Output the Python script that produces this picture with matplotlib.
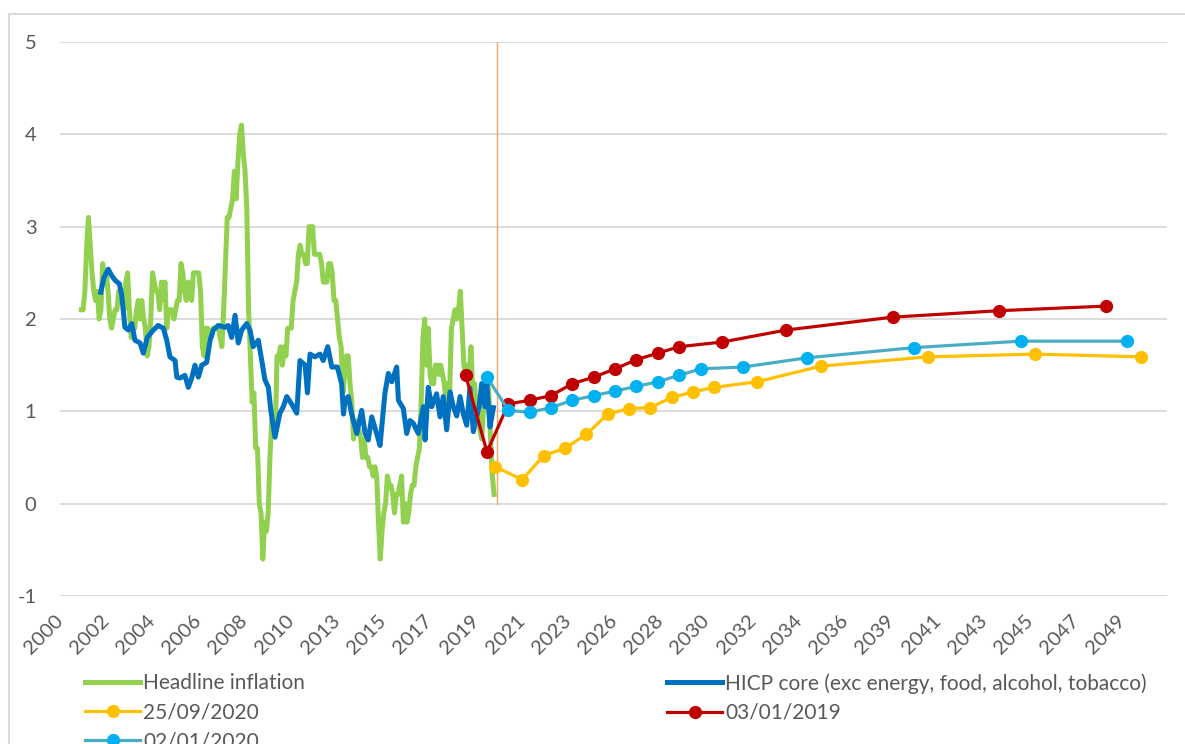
import numpy as np
import matplotlib.pyplot as plt
from matplotlib.lines import Line2D

# Headline HICP inflation, monthly from Jan 2001 to May 2020
headline_start = 2001
headline = [
    2.1, 2.1, 2.3, 2.8, 3.1, 2.8, 2.5, 2.3, 2.2, 2.3, 2.0, 2.1,
    2.6, 2.4, 2.5, 2.3, 2.0, 1.9, 2.0, 2.1, 2.1, 2.3, 2.3, 2.3,
    2.1, 2.4, 2.5, 2.1, 1.8, 1.9, 1.9, 2.1, 2.2, 2.0, 2.2, 2.0,
    1.9, 1.6, 1.7, 2.0, 2.5, 2.4, 2.3, 2.3, 2.1, 2.4, 2.2, 2.4,
    1.9, 2.1, 2.1, 2.1, 2.0, 2.1, 2.2, 2.2, 2.6, 2.5, 2.3, 2.2,
    2.4, 2.3, 2.2, 2.5, 2.5, 2.5, 2.5, 2.3, 1.7, 1.6, 1.9, 1.9,
    1.8, 1.8, 1.9, 1.9, 1.9, 1.9, 1.8, 1.7, 2.1, 2.6, 3.1, 3.1,
    3.2, 3.3, 3.6, 3.3, 3.7, 4.0, 4.1, 3.8, 3.6, 3.2, 2.1, 1.6,
    1.1, 1.2, 0.6, 0.6, 0.0, -0.1, -0.6, -0.2, -0.3, -0.1, 0.5, 0.9,
    1.0, 0.8, 1.6, 1.6, 1.7, 1.5, 1.7, 1.6, 1.9, 1.9, 1.9, 2.2,
    2.3, 2.4, 2.7, 2.8, 2.7, 2.7, 2.6, 2.6, 3.0, 3.0, 3.0, 2.7,
    2.7, 2.7, 2.7, 2.6, 2.4, 2.4, 2.4, 2.6, 2.6, 2.5, 2.2, 2.2,
    2.0, 1.8, 1.7, 1.2, 1.4, 1.6, 1.6, 1.3, 1.1, 0.7, 0.9, 0.8,
    0.8, 0.7, 0.5, 0.7, 0.5, 0.5, 0.4, 0.4, 0.3, 0.4, 0.3, -0.2,
    -0.6, -0.3, -0.1, 0.0, 0.3, 0.2, 0.2, 0.1, -0.1, 0.1, 0.1, 0.2,
    0.3, -0.2, 0.0, -0.2, -0.1, 0.1, 0.2, 0.2, 0.4, 0.5, 0.6, 1.1,
    1.8, 2.0, 1.5, 1.9, 1.4, 1.3, 1.3, 1.5, 1.5, 1.4, 1.5, 1.4,
    1.3, 1.1, 1.3, 1.2, 1.9, 2.0, 2.1, 2.0, 2.1, 2.3, 1.9, 1.5,
    1.4, 1.5, 1.4, 1.7, 1.2, 1.3, 1.0, 1.0, 0.8, 0.7, 1.0, 1.3,
    1.4, 1.2, 0.7, 0.3, 0.1,
]

# Core HICP (exc energy, food, alcohol, tobacco)
core_t = [
    2001.91, 2002.06, 2002.26, 2002.42, 2002.58, 2002.78, 2002.89, 2003.04,
    2003.20, 2003.36, 2003.51, 2003.75, 2003.90, 2004.09, 2004.37, 2004.60,
    2004.84, 2005.00, 2005.15, 2005.39, 2005.47, 2005.62, 2005.85, 2006.01,
    2006.17, 2006.32, 2006.48, 2006.64, 2006.87, 2007.03, 2007.18, 2007.41,
    2007.73, 2007.88, 2008.04, 2008.20, 2008.35, 2008.51, 2008.74, 2008.90,
    2009.05, 2009.29, 2009.45, 2009.60, 2009.76, 2009.88, 2010.07, 2010.30,
    2010.46, 2010.62, 2010.85, 2011.09, 2011.24, 2011.48, 2011.59, 2011.71,
    2011.94, 2012.18, 2012.33, 2012.54, 2012.73, 2012.99, 2013.19, 2013.28,
    2013.35, 2013.50, 2013.66, 2013.90, 2014.13, 2014.29, 2014.44, 2014.60,
    2014.83, 2014.99, 2015.22, 2015.38, 2015.54, 2015.77, 2015.85, 2016.08,
    2016.24, 2016.39, 2016.55, 2016.78, 2017.02, 2017.10, 2017.25, 2017.41,
    2017.64, 2017.80, 2017.95, 2018.11, 2018.27, 2018.42, 2018.58, 2018.74,
    2018.89, 2019.05, 2019.20, 2019.36, 2019.52, 2019.63, 2019.75, 2019.91,
    2019.99, 2020.14, 2020.30,
]
core = [
    2.29, 2.45, 2.54, 2.47, 2.42, 2.38, 2.26, 1.91,
    1.88, 1.95, 1.77, 1.74, 1.63, 1.80, 1.88, 1.93,
    1.90, 1.77, 1.59, 1.55, 1.37, 1.36, 1.39, 1.26,
    1.36, 1.50, 1.37, 1.50, 1.53, 1.77, 1.88, 1.93,
    1.91, 1.93, 1.80, 2.04, 1.74, 1.88, 1.95, 1.88,
    1.70, 1.77, 1.55, 1.34, 1.26, 1.00, 0.72, 0.98,
    1.05, 1.16, 1.08, 0.98, 1.55, 1.50, 1.20, 1.62,
    1.59, 1.62, 1.55, 1.70, 1.48, 1.48, 1.30, 0.97,
    1.12, 1.16, 0.97, 0.76, 1.01, 0.76, 0.69, 0.94,
    0.76, 0.63, 1.20, 1.41, 1.32, 1.48, 1.12, 1.03,
    0.76, 0.90, 0.87, 0.76, 1.05, 0.69, 1.26, 1.05,
    1.19, 0.94, 1.16, 0.80, 1.21, 1.05, 0.95, 1.16,
    0.97, 0.85, 1.25, 0.78, 0.95, 1.05, 1.30, 1.05,
    1.30, 0.83, 1.04,
]

# Market-implied inflation curves on three dates
tenors = [0, 1, 2, 3, 4, 5, 6, 7, 8, 9, 10, 12, 15, 20, 25, 30]

curve_0919 = [1.39, 0.56, 1.08, 1.12, 1.17, 1.30, 1.37, 1.46,
              1.56, 1.63, 1.70, 1.75, 1.88, 2.02, 2.09, 2.14]
curve_0120 = [1.37, 1.01, 0.99, 1.04, 1.12, 1.17, 1.22, 1.27,
              1.32, 1.39, 1.46, 1.48, 1.58, 1.69, 1.76, 1.76]
curve_0920 = [0.40, 0.26, 0.52, 0.60, 0.75, 0.97, 1.03, 1.04,
              1.15, 1.21, 1.26, 1.32, 1.49, 1.59, 1.62, 1.59]
curve_0920_t = [2020.38] + [2020.65 + t for t in tenors[1:]]

last_obs = 2020.45

xtick_labels = ['2000', '2002', '2004', '2006', '2008', '2010', '2013', '2015',
                '2017', '2019', '2021', '2023', '2026', '2028', '2030', '2032',
                '2034', '2036', '2039', '2041', '2043', '2045', '2047', '2049']

plt.rcParams['font.family'] = ['Lato', 'DejaVu Sans']
plt.rcParams['axes.unicode_minus'] = False
grey = '#595959'

fig = plt.figure(figsize=(11.85, 7.44), dpi=100)
ax = fig.add_axes([60 / 1185, 1 - 596 / 744, 1107 / 1185, 554 / 744])

t_head = headline_start + np.arange(len(headline)) / 12
ax.plot([last_obs, last_obs], [0, 5], color='#F4A46A', lw=1.0, zorder=1)
ax.plot(t_head, headline, color='#92D050', lw=3.6, solid_joinstyle='round',
        label='Headline inflation', zorder=2)
ax.plot(core_t, core, color='#0070C0', lw=3.6, solid_joinstyle='round',
        label='HICP core (exc energy, food, alcohol, tobacco)', zorder=3)
ax.plot(curve_0920_t, curve_0920, color='#FFC000', lw=2.3, marker='o',
        ms=8.5, label='25/09/2020', zorder=4)
ax.plot([2019.0 + t for t in tenors], curve_0919, color='#C00000', lw=2.3,
        marker='o', ms=8.5, label='03/01/2019', zorder=5)
ax.plot([2020.0 + t for t in tenors], curve_0120, color='#4BACC6', lw=2.3,
        marker='o', ms=8.5, mfc='#00B0F0', mec='#00B0F0', label='02/01/2020',
        zorder=6)

ax.set_xlim(2000, 2000 + 1107 / 21.35)
ax.set_ylim(-1, 5)
xt = 2000 + np.arange(len(xtick_labels)) * 46.2 / 21.35
ax.set_xticks(xt, labels=xtick_labels)
ax.set_yticks(range(-1, 6))
ax.grid(axis='y', color='#D9D9D9', lw=1.3)
ax.set_axisbelow(True)
for s in ax.spines.values():
    s.set_visible(False)
ax.tick_params(axis='both', length=0, labelsize=14.5, labelcolor=grey)
ax.tick_params(axis='y', pad=17)
ax.tick_params(axis='x', pad=16)
for lab in ax.get_xticklabels():
    lab.set_rotation(45)
    lab.set_rotation_mode('anchor')
    lab.set_ha('right')
    lab.set_va('center')

h, l = ax.get_legend_handles_labels()
leg_kw = dict(frameon=False, fontsize=15, labelcolor=grey, borderpad=0,
              borderaxespad=0, handlelength=2.65, handletextpad=0.15,
              labelspacing=0.45, loc='upper left')
fig.legend([h[0], h[2], h[4]], [l[0], l[2], l[4]],
           bbox_to_anchor=(85 / 1185, 1 - 673 / 744), **leg_kw)
fig.legend([h[1], h[3]], [l[1], l[3]],
           bbox_to_anchor=(667 / 1185, 1 - 673 / 744), **leg_kw)

# chart area frame
fig.add_artist(Line2D([9 / 1185, 1], [1 - 14 / 744] * 2, color='#D9D9D9', lw=1.5))
fig.add_artist(Line2D([9 / 1185] * 2, [0, 1 - 14 / 744], color='#D9D9D9', lw=1.5))

fig.savefig('out.png', dpi=100)
